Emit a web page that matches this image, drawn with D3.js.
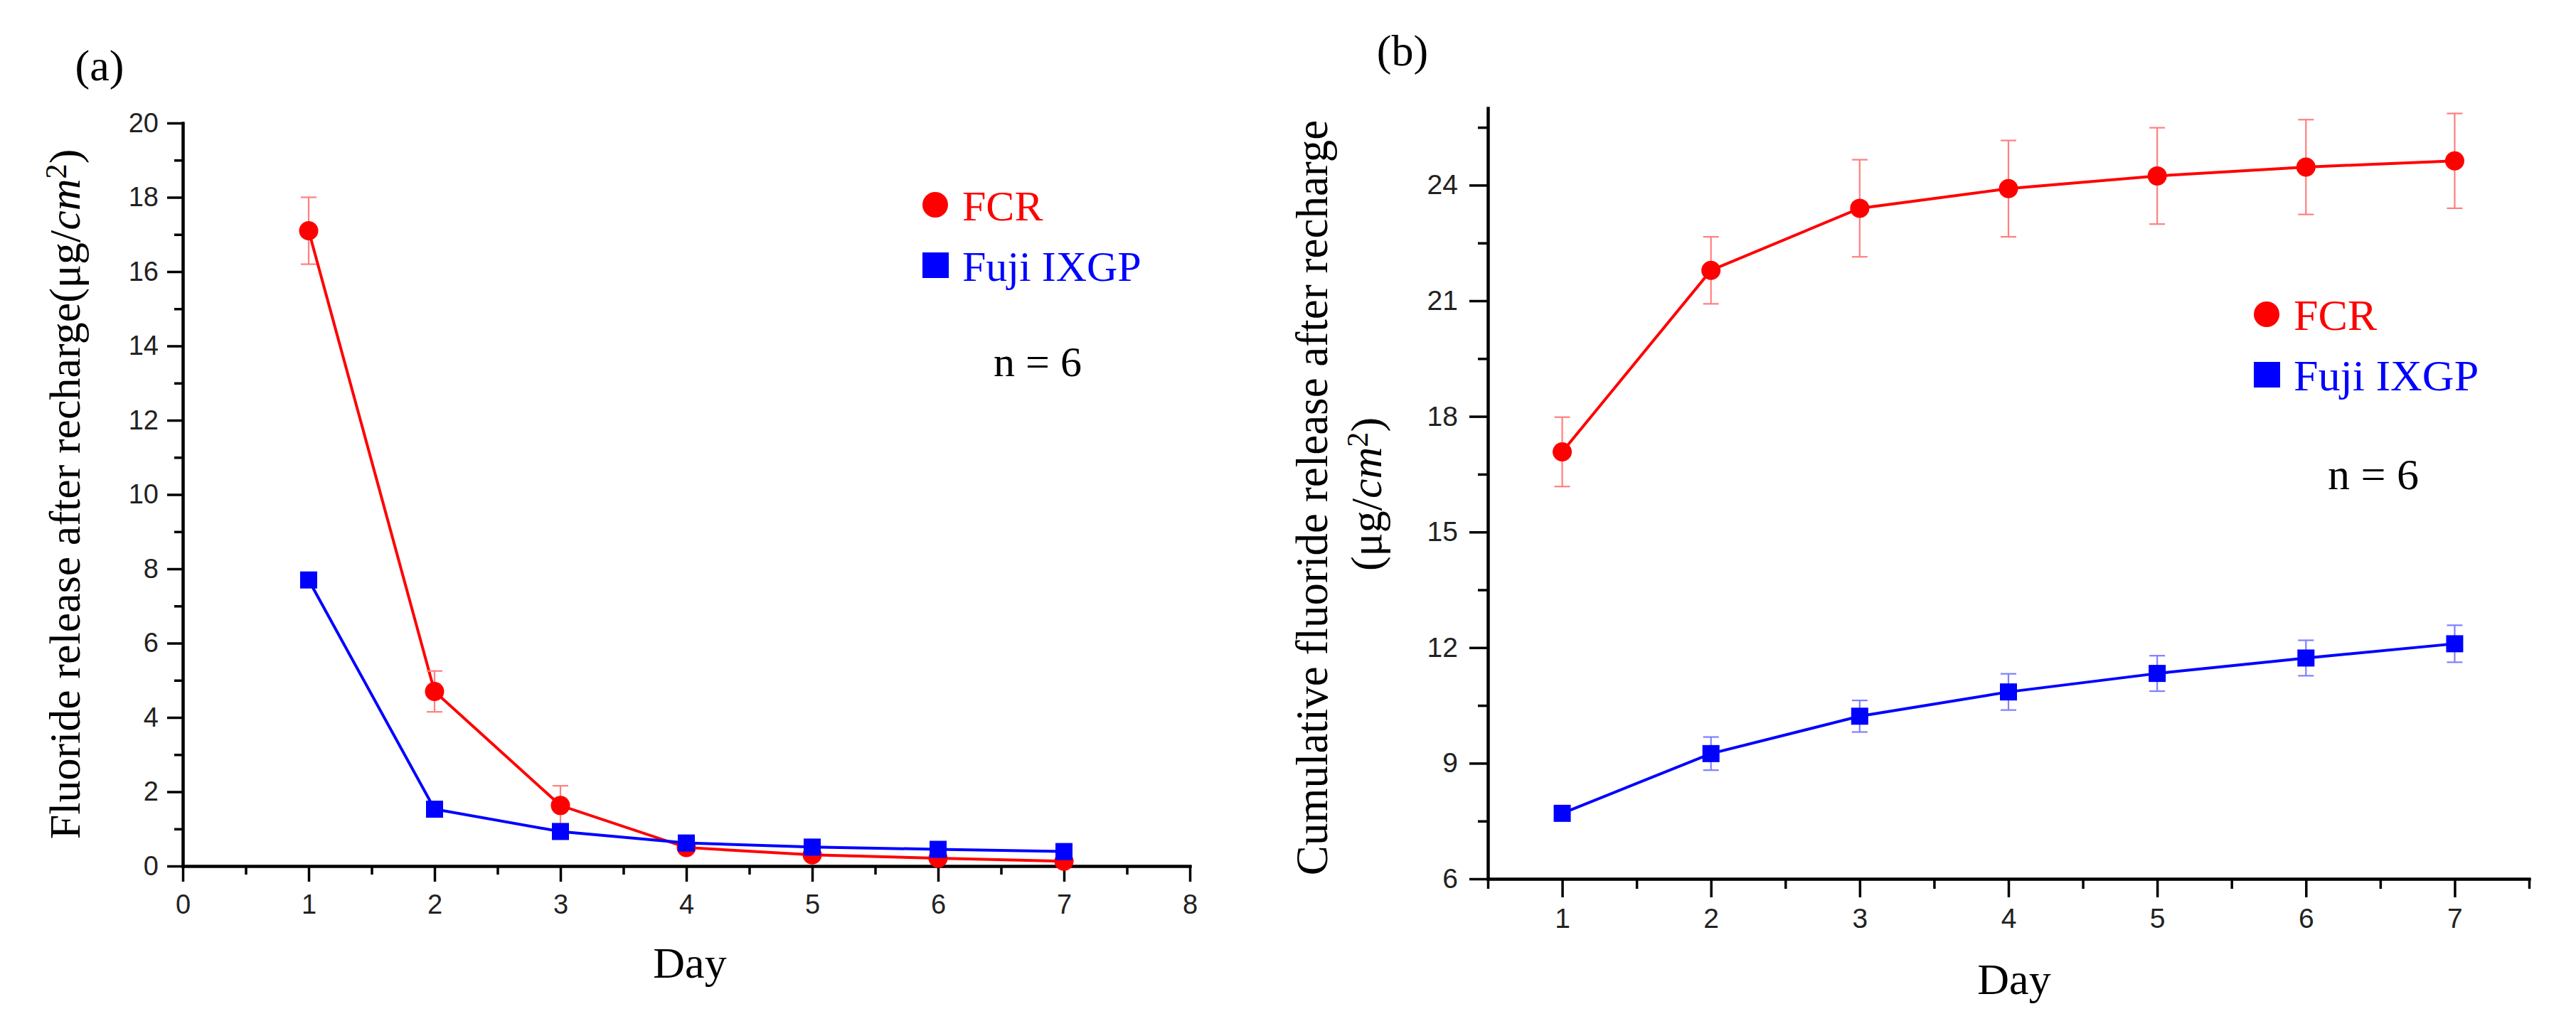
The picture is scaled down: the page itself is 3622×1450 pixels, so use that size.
<!DOCTYPE html>
<html>
<head>
<meta charset="utf-8">
<script src="https://cdn.jsdelivr.net/npm/d3@7"></script>
<style>
    body { margin: 0; background: #fff; }
    svg text { font-family: "Liberation Serif", "Times New Roman", serif; }
    .tick text { font-family: "Liberation Sans", Arial, sans-serif; fill: #222; }
</style>
</head>
<body>
<div id="chart"></div>
<script>
// Days of measurement
var days = [1, 2, 3, 4, 5, 6, 7];

// (a) daily fluoride release after recharge (ug/cm2)
var fcrRelease = [17.1, 4.7, 1.63, 0.5, 0.3, 0.21, 0.13];
var fcrReleaseErr = [0.9, 0.55, 0.53, 0.08, 0.06, 0.05, 0.05];
var fujiRelease = [7.7, 1.53, 0.93, 0.62, 0.51, 0.45, 0.39];
var fujiReleaseErr = [0.1, 0.08, 0.06, 0.05, 0.04, 0.04, 0.04];

// (b) cumulative fluoride release after recharge (ug/cm2)
var fcrCumulative = [17.08, 21.79, 23.40, 23.91, 24.24, 24.47, 24.63];
var fcrCumulativeErr = [0.9, 0.87, 1.26, 1.25, 1.25, 1.23, 1.23];
var fujiCumulative = [7.70, 9.25, 10.22, 10.85, 11.33, 11.73, 12.10];
var fujiCumulativeErr = [0.13, 0.43, 0.41, 0.47, 0.46, 0.46, 0.48];

// tick values
var releaseTicks = [0, 2, 4, 6, 8, 10, 12, 14, 16, 18, 20];
var releaseMinor = [1, 3, 5, 7, 9, 11, 13, 15, 17, 19];
var dayTicksA = [0, 1, 2, 3, 4, 5, 6, 7, 8];
var dayMinorA = [0.5, 1.5, 2.5, 3.5, 4.5, 5.5, 6.5, 7.5];
var cumulativeTicks = [6, 9, 12, 15, 18, 21, 24];
var cumulativeMinor = [7.5, 10.5, 13.5, 16.5, 19.5, 22.5, 25.5];
var dayTicksB = [1, 2, 3, 4, 5, 6, 7];
var dayMinorB = [0.5, 1.5, 2.5, 3.5, 4.5, 5.5, 6.5, 7.5];

var RED = "#ff0000", BLUE = "#0000ff";

var svg = d3.select("#chart").append("svg").attr("width", 3622).attr("height", 1450);

function toPoints(vals, errs) {
    return days.map(function (d, i) { return { day: d, value: vals[i], err: errs[i] }; });
}

function drawPanel(p) {
    var x = d3.scaleLinear().domain(p.xDomain).range([p.left, p.right]);
    var y = d3.scaleLinear().domain(p.yDomain).range([p.bottom, p.top]);
    var chart = svg.append("g");
    var fmt = d3.format("d");

    // minor ticks first (no labels)
    chart.append("g").attr("transform", "translate(0," + p.bottom + ")")
        .call(d3.axisBottom(x).tickValues(p.xMinor).tickSize(p.minorLen).tickSizeOuter(0).tickFormat(""));
    chart.append("g").attr("transform", "translate(" + p.left + ",0)")
        .call(d3.axisLeft(y).tickValues(p.yMinor).tickSize(p.minorLen).tickSizeOuter(0).tickFormat(""));

    // major ticks with labels
    chart.append("g").attr("transform", "translate(0," + p.bottom + ")")
        .call(d3.axisBottom(x).tickValues(p.xTicks).tickFormat(fmt).tickSize(p.majorLen).tickPadding(p.xPad).tickSizeOuter(0))
        .selectAll("text").attr("font-size", p.tickFont);
    chart.append("g").attr("transform", "translate(" + p.left + ",0)")
        .call(d3.axisLeft(y).tickValues(p.yTicks).tickFormat(fmt).tickSize(p.majorLen).tickPadding(p.yPad).tickSizeOuter(0))
        .selectAll("text").attr("font-size", p.tickFont);

    chart.selectAll(".domain").attr("stroke", "#000").attr("stroke-width", 4).attr("stroke-linecap", "square");
    chart.selectAll(".tick line").attr("stroke", "#000").attr("stroke-width", 3.5);

    // series
    var line = d3.line().x(function (d) { return x(d.day); }).y(function (d) { return y(d.value); });

    p.series.forEach(function (s) {
        var pts = toPoints(s.values, s.errors);
        chart.append("path").datum(pts)
            .attr("d", line).attr("fill", "none")
            .attr("stroke", s.color).attr("stroke-width", 4);

        var eb = chart.append("g").attr("stroke", s.errColor).attr("stroke-width", 2.2);
        pts.forEach(function (d) {
            var cx = x(d.day), y0 = y(d.value - d.err), y1 = y(d.value + d.err);
            eb.append("line").attr("x1", cx).attr("x2", cx).attr("y1", y0).attr("y2", y1);
            eb.append("line").attr("x1", cx - 11).attr("x2", cx + 11).attr("y1", y0).attr("y2", y0);
            eb.append("line").attr("x1", cx - 11).attr("x2", cx + 11).attr("y1", y1).attr("y2", y1);
        });

        if (s.shape === "circle") {
            chart.append("g").selectAll("circle").data(pts).enter().append("circle")
                .attr("cx", function (d) { return x(d.day); })
                .attr("cy", function (d) { return y(d.value); })
                .attr("r", 13.5).attr("fill", s.color);
        } else {
            chart.append("g").selectAll("rect").data(pts).enter().append("rect")
                .attr("x", function (d) { return x(d.day) - 12; })
                .attr("y", function (d) { return y(d.value) - 12; })
                .attr("width", 24).attr("height", 24).attr("fill", s.color);
        }
    });

    // panel letter
    svg.append("text").attr("x", p.letterX).attr("y", p.letterY)
        .attr("text-anchor", "middle").attr("font-size", 62).text(p.letter);

    // x title
    svg.append("text").attr("x", p.dayX).attr("y", p.dayY)
        .attr("text-anchor", "middle").attr("font-size", 62).text("Day");

    // legend
    var lg = svg.append("g");
    lg.append("circle").attr("cx", p.legX).attr("cy", p.legY).attr("r", 18).attr("fill", RED);
    lg.append("text").attr("x", p.legX + 38).attr("y", p.legY + 22)
        .attr("font-size", p.legFont).attr("fill", RED).text("FCR");
    lg.append("rect").attr("x", p.legX - 18).attr("y", p.legY + 85 - 18)
        .attr("width", 37).attr("height", 36).attr("fill", BLUE);
    lg.append("text").attr("x", p.legX + 38).attr("y", p.legY + 107)
        .attr("font-size", p.legFont).attr("fill", BLUE).text("Fuji IXGP");
    lg.append("text").attr("x", p.nX).attr("y", p.nY).attr("text-anchor", "middle")
        .attr("font-size", p.legFont).text("n = 6");

    return { x: x, y: y };
}

function unitLabel(t) {
    t.append("tspan").text("(μg/");
    t.append("tspan").attr("font-style", "italic").text("cm");
    t.append("tspan").attr("font-size", "0.68em").attr("dy", "-0.45em").text("2");
    t.append("tspan").attr("dy", "0.3em").text(")");
}

// (a) daily release
drawPanel({
    left: 257, right: 1673, top: 173, bottom: 1218,
    xDomain: [0, 8], yDomain: [0, 20],
    xTicks: dayTicksA, xMinor: dayMinorA, yTicks: releaseTicks, yMinor: releaseMinor,
    majorLen: 22, minorLen: 12, xPad: 18, yPad: 12, tickFont: 38,
    series: [
        { values: fcrRelease, errors: fcrReleaseErr, color: RED, errColor: "#ff7f7f", shape: "circle" },
        { values: fujiRelease, errors: fujiReleaseErr, color: BLUE, errColor: "#7f7fff", shape: "square" }
    ],
    letter: "(a)", letterX: 140, letterY: 113,
    dayX: 970, dayY: 1375,
    legX: 1315, legY: 288, legFont: 60, nX: 1459, nY: 529
});

var ya = svg.append("text")
    .attr("transform", "translate(112,695) rotate(-90)")
    .attr("text-anchor", "middle").attr("font-size", 62);
ya.append("tspan").text("Fluoride release after recharge");
unitLabel(ya);

// (b) cumulative release
drawPanel({
    left: 2092, right: 3556, top: 152, bottom: 1236,
    xDomain: [0.5, 7.5], yDomain: [6, 26],
    xTicks: dayTicksB, xMinor: dayMinorB, yTicks: cumulativeTicks, yMinor: cumulativeMinor,
    majorLen: 26, minorLen: 14, xPad: 15, yPad: 16, tickFont: 39,
    series: [
        { values: fcrCumulative, errors: fcrCumulativeErr, color: RED, errColor: "#ff7f7f", shape: "circle" },
        { values: fujiCumulative, errors: fujiCumulativeErr, color: BLUE, errColor: "#7f7fff", shape: "square" }
    ],
    letter: "(b)", letterX: 1972, letterY: 92,
    dayX: 2832, dayY: 1398,
    legX: 3187, legY: 442, legFont: 62, nX: 3337, nY: 688
});

svg.append("text")
    .attr("transform", "translate(1866,700) rotate(-90)")
    .attr("text-anchor", "middle").attr("font-size", 63)
    .text("Cumulative fluoride release after recharge");
var yb = svg.append("text")
    .attr("transform", "translate(1942,695) rotate(-90)")
    .attr("text-anchor", "middle").attr("font-size", 62);
unitLabel(yb);
</script>
</body>
</html>
